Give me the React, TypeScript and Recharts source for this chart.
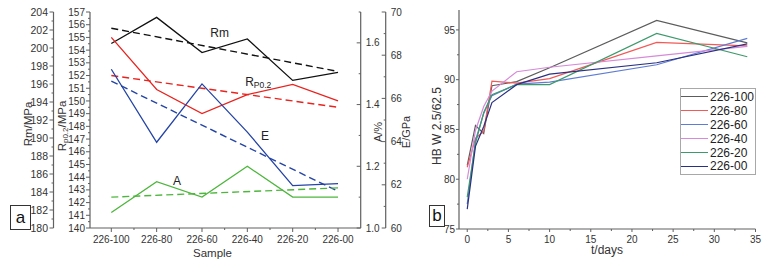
import React from 'react';
import { LineChart, Line, XAxis, YAxis, ReferenceDot, Legend } from 'recharts';

// ---- panel a: properties per sample ----
const samples = ['226-100', '226-80', '226-60', '226-40', '226-20', '226-00'];
const rmValues = [200.5, 203.4, 199.5, 201.0, 196.4, 197.3];
const rmTrend = [202.2, null, null, null, null, 197.4];
const rpValues = [155.0, 150.9, 149.0, 150.5, 151.3, 150.0];
const rpTrend = [152.0, null, null, null, null, 149.5];
const eValues = [67.35, 63.97, 66.67, 64.44, 61.96, 62.05];
const eTrend = [66.8, null, null, null, null, 61.7];
const aValues = [1.05, 1.15, 1.1, 1.2, 1.1, 1.1];
const aTrend = [1.1, null, null, null, null, 1.13];

const sampleMinor = [0.5, 1.5, 2.5, 3.5, 4.5];
const rmTicks = [180, 182, 184, 186, 188, 190, 192, 194, 196, 198, 200, 202, 204];
const rmMinor = [181, 183, 185, 187, 189, 191, 193, 195, 197, 199, 201, 203];
const rpTicks = [140, 141, 142, 143, 144, 145, 146, 147, 148, 149, 150, 151, 152, 153, 154, 155, 156, 157];
const rpMinor = [140.5, 141.5, 142.5, 143.5, 144.5, 145.5, 146.5, 147.5, 148.5, 149.5, 150.5, 151.5, 152.5, 153.5, 154.5, 155.5, 156.5];
const aTicks = [1.0, 1.2, 1.4, 1.6];
const aMinor = [1.1, 1.3, 1.5, 1.7];
const eTicks = [60, 62, 64, 66, 68, 70];
const eMinor = [61, 63, 65, 67, 69];

// axis ids sort the same way they are declared (inner axis first)
const RP = 'l1_rp';
const RM = 'l2_rm';
const AX = 'r1_a';
const EX = 'r2_e';

const annotations = [
  { text: 'Rm', sub: '', axis: RM, x: 2.39, y: 201.7 },
  { text: 'R', sub: 'P0.2', axis: RP, x: 3.24, y: 151.5 },
  { text: 'E', sub: '', axis: EX, x: 3.39, y: 64.24 },
  { text: 'A', sub: '', axis: AX, x: 1.45, y: 1.151 },
];

// ---- panel b: hardness vs ageing time ----
const days = [0, 1, 2, 3, 6, 10, 23, 34];
const hb100 = [81.4, 85.4, 84.6, 89.4, 89.8, 91.2, 95.95, 93.7];
const hb80 = [81.2, 84.1, 84.8, 89.85, 89.65, 90.1, 93.75, 93.4];
const hb60 = [77.5, 83.9, 86.6, 88.4, 89.55, 89.75, 91.5, 94.15];
const hb40 = [80.0, 84.9, 87.3, 88.85, 90.8, 91.25, 92.4, 93.35];
const hb20 = [78.2, 83.6, 86.7, 88.5, 89.5, 89.5, 94.65, 92.3];
const hb00 = [77.0, 83.3, 85.3, 87.7, 89.5, 90.55, 91.7, 93.6];
const hbNames = ['226-100', '226-80', '226-60', '226-40', '226-20', '226-00'];
const hbColors = ['#5c5c5c', '#f25a58', '#5e7cd4', '#d68ad9', '#3e9a6c', '#2b3182'];
const hbSeries = [hb100, hb80, hb60, hb40, hb20, hb00];

const dayTicks = [0, 5, 10, 15, 20, 25, 30, 35];
const dayMinor = [2.5, 7.5, 12.5, 17.5, 22.5, 27.5, 32.5];
const hbTicks = [75, 80, 85, 90, 95];
const hbMinor = [77.5, 82.5, 87.5, 92.5];

const FONT = '"Liberation Sans", Arial, Helvetica, sans-serif';
const INK = '#333';
const AXIS = '#606060';

const leftData = samples.map((s, i) => ({
  idx: i,
  sample: s,
  rm: rmValues[i],
  rmFit: rmTrend[i],
  rp: rpValues[i],
  rpFit: rpTrend[i],
  e: eValues[i],
  eFit: eTrend[i],
  a: aValues[i],
  aFit: aTrend[i],
}));

const hbData = days.map((d, i) => {
  const row: Record<string, number> = { t: d };
  hbSeries.forEach((s, k) => {
    row['s' + k] = s[i];
  });
  return row;
});

// ticks: all vertical-axis ticks point left, bottom ticks point down
function makeTick(side: 'left' | 'right' | 'bottom', majors: number[], fmt: (v: number) => string, len = 4, minorLen = 2, gap = 2, fontSize = 10) {
  return (props: any) => {
    const { x, y, payload } = props;
    const v = Number(payload.value);
    const major = majors.some((m) => Math.abs(m - v) < 1e-6);
    const l = major ? len : minorLen;
    if (side === 'bottom') {
      return (
        <g>
          <line x1={x} y1={y} x2={x} y2={y + l} stroke={AXIS} strokeWidth={1} />
          {major && (
            <text x={x} y={y + len + gap} dy="0.8em" textAnchor="middle" fontSize={fontSize} fontFamily={FONT} fill={INK}>
              {fmt(v)}
            </text>
          )}
        </g>
      );
    }
    return (
      <g>
        <line x1={x - l} y1={y} x2={x} y2={y} stroke={AXIS} strokeWidth={1} />
        {major &&
          (side === 'left' ? (
            <text x={x - len - gap} y={y} dy="0.36em" textAnchor="end" fontSize={fontSize} fontFamily={FONT} fill={INK}>
              {fmt(v)}
            </text>
          ) : (
            <text x={x + gap} y={y} dy="0.36em" textAnchor="start" fontSize={fontSize} fontFamily={FONT} fill={INK}>
              {fmt(v)}
            </text>
          ))}
      </g>
    );
  };
}

const vTitle = (dx: number, cy: number, body: React.ReactNode, size = 11.5) => (p: any) => {
  const vb = p.viewBox || { x: 0 };
  return (
    <text
      transform={`translate(${vb.x + dx}, ${cy}) rotate(-90)`}
      textAnchor="middle"
      dominantBaseline="central"
      fontSize={size}
      fontFamily={FONT}
      fill={INK}
    >
      {body}
    </text>
  );
};

const hTitle = (dx: number, dy: number, text: string, size: number) => (p: any) => {
  const vb = p.viewBox || { x: 0, y: 0 };
  return (
    <text x={vb.x + dx} y={vb.y + dy} textAnchor="middle" dominantBaseline="central" fontSize={size} fontFamily={FONT} fill={INK}>
      {text}
    </text>
  );
};

const noteLabel = (text: string, sub: string) => (p: any) => {
  const vb = p.viewBox || { x: 0, y: 0 };
  return (
    <text x={vb.x} y={vb.y} textAnchor="middle" dominantBaseline="central" fontSize={12} fontFamily={FONT} fill="#222">
      {text}
      {sub && (
        <tspan fontSize={8.5} dy={3}>
          {sub}
        </tspan>
      )}
    </text>
  );
};

const HbLegend = (props: any) => {
  const items = [...(props.payload || [])].sort(
    (p: any, q: any) => hbNames.indexOf(p.value) - hbNames.indexOf(q.value)
  );
  return (
    <div
      style={{
        border: '1px solid #a8a8a8',
        background: '#fff',
        width: 74,
        padding: '1px 0',
        fontFamily: FONT,
        fontSize: 12,
        color: '#222',
      }}
    >
      {items.map((it: any) => (
        <div key={it.value} style={{ display: 'flex', alignItems: 'center', height: 13.9 }}>
          <span style={{ display: 'inline-block', width: 27, borderTop: `1.3px solid ${it.color}`, marginRight: 2 }} />
          <span>{it.value}</span>
        </div>
      ))}
    </div>
  );
};

const boxStyle: React.CSSProperties = {
  position: 'absolute',
  border: '1px solid #333',
  background: '#fff',
  fontFamily: FONT,
  fontSize: 17,
  color: '#111',
  display: 'flex',
  alignItems: 'center',
  justifyContent: 'center',
  boxSizing: 'border-box',
};

export default function App() {
  return (
    <div style={{ position: 'absolute', left: 0, top: 0, width: 768, height: 263, background: '#fff', overflow: 'hidden' }}>
      <div style={{ position: 'absolute', left: 420, top: 0 }}>
        <LineChart width={348} height={263} data={hbData} margin={{ top: 10, right: 12.5, bottom: 0, left: 0 }}>
          <XAxis
            dataKey="t"
            type="number"
            domain={[-1, 35]}
            allowDataOverflow
            ticks={[...dayTicks, ...dayMinor]}
            interval={0}
            height={34}
            tickSize={0}
            tickMargin={0}
            tickLine={false}
            axisLine={{ stroke: AXIS, strokeWidth: 1.2 }}
            tick={makeTick('bottom', dayTicks, (v) => String(v), 3, 2, 3, 10)}
            label={hTitle(148, 21, 't/days', 12)}
          />
          <YAxis
            type="number"
            domain={[75, 97]}
            allowDataOverflow
            ticks={[...hbTicks, ...hbMinor]}
            interval={0}
            width={39}
            tickSize={0}
            tickMargin={0}
            tickLine={false}
            axisLine={{ stroke: AXIS, strokeWidth: 1.2 }}
            tick={makeTick('left', hbTicks, (v) => String(v), 3, 2, 1, 10)}
            label={vTitle(17, 126, 'HB W 2.5/62.5', 12)}
          />
          {hbNames.map((n, k) => (
            <Line
              key={n}
              name={n}
              dataKey={'s' + k}
              stroke={hbColors[k]}
              strokeWidth={1.2}
              dot={false}
              activeDot={false}
              isAnimationActive={false}
            />
          ))}
          <Legend
            layout="vertical"
            align="center"
            verticalAlign="middle"
            content={HbLegend}
            wrapperStyle={{ left: 260, top: 88, width: 76, height: 'auto' }}
          />
        </LineChart>
      </div>

      <div style={{ position: 'absolute', left: 0, top: 0 }}>
        <LineChart width={430} height={263} data={leftData} margin={{ top: 12, right: 0, bottom: 0, left: 0 }}>
          <XAxis
            dataKey="idx"
            type="number"
            domain={[-0.47, 5.5]}
            allowDataOverflow
            ticks={[...samples.map((_, i) => i), ...sampleMinor]}
            interval={0}
            height={35}
            tickSize={0}
            tickMargin={0}
            tickLine={false}
            axisLine={{ stroke: AXIS, strokeWidth: 1.2 }}
            tick={makeTick('bottom', samples.map((_, i) => i), (v) => samples[Math.round(v)], 4, 2, 3, 10)}
            label={hTitle(122.5, 25, 'Sample', 11.5)}
          />
          <YAxis
            yAxisId={RP}
            orientation="left"
            type="number"
            domain={[140, 157]}
            allowDataOverflow
            ticks={[...rpTicks, ...rpMinor]}
            interval={0}
            width={36.5}
            tickSize={0}
            tickMargin={0}
            tickLine={false}
            axisLine={{ stroke: AXIS, strokeWidth: 1.2 }}
            tick={makeTick('left', rpTicks, (v) => String(v), 4, 2, 1, 10)}
            label={vTitle(8.5, 126, <>R<tspan fontSize={8} dy={3}>p0.2</tspan><tspan dy={-3}>/MPa</tspan></>)}
          />
          <YAxis
            yAxisId={RM}
            orientation="left"
            type="number"
            domain={[180, 204]}
            allowDataOverflow
            ticks={[...rmTicks, ...rmMinor]}
            interval={0}
            width={53.5}
            tickSize={0}
            tickMargin={0}
            tickLine={false}
            axisLine={{ stroke: AXIS, strokeWidth: 1.2 }}
            tick={makeTick('left', rmTicks, (v) => String(v), 4, 2, 1.5, 10.5)}
            label={vTitle(27.5, 124, 'Rm/MPa')}
          />
          <YAxis
            yAxisId={AX}
            orientation="right"
            type="number"
            domain={[1.0, 1.7]}
            allowDataOverflow
            ticks={[...aTicks, ...aMinor]}
            interval={0}
            width={25}
            tickSize={0}
            tickMargin={0}
            tickLine={false}
            axisLine={{ stroke: AXIS, strokeWidth: 1.2 }}
            tick={makeTick('right', aTicks, (v) => v.toFixed(1), 4, 2, 5, 10)}
            label={vTitle(17.5, 132, 'A/%', 11)}
          />
          <YAxis
            yAxisId={EX}
            orientation="right"
            type="number"
            domain={[60, 70]}
            allowDataOverflow
            ticks={[...eTicks, ...eMinor]}
            interval={0}
            width={44.3}
            tickSize={0}
            tickMargin={0}
            tickLine={false}
            axisLine={{ stroke: AXIS, strokeWidth: 1.2 }}
            tick={makeTick('right', eTicks, (v) => String(v), 4, 2, 5, 10)}
            label={vTitle(20.5, 132, 'E/GPa', 11)}
          />

          <Line yAxisId={RM} dataKey="rmFit" stroke="#111" strokeWidth={1.4} strokeDasharray="7 4" connectNulls dot={false} activeDot={false} isAnimationActive={false} />
          <Line yAxisId={RM} dataKey="rm" stroke="#111" strokeWidth={1.3} dot={false} activeDot={false} isAnimationActive={false} />
          <Line yAxisId={RP} dataKey="rpFit" stroke="#e8241f" strokeWidth={1.4} strokeDasharray="7 4" connectNulls dot={false} activeDot={false} isAnimationActive={false} />
          <Line yAxisId={RP} dataKey="rp" stroke="#e8241f" strokeWidth={1.3} dot={false} activeDot={false} isAnimationActive={false} />
          <Line yAxisId={EX} dataKey="eFit" stroke="#2444a6" strokeWidth={1.4} strokeDasharray="7 4" connectNulls dot={false} activeDot={false} isAnimationActive={false} />
          <Line yAxisId={EX} dataKey="e" stroke="#2444a6" strokeWidth={1.3} dot={false} activeDot={false} isAnimationActive={false} />
          <Line yAxisId={AX} dataKey="aFit" stroke="#4db63c" strokeWidth={1.4} strokeDasharray="7 4" connectNulls dot={false} activeDot={false} isAnimationActive={false} />
          <Line yAxisId={AX} dataKey="a" stroke="#4db63c" strokeWidth={1.3} dot={false} activeDot={false} isAnimationActive={false} />

          {annotations.map((n) => (
            <ReferenceDot
              key={n.text}
              yAxisId={n.axis}
              x={n.x}
              y={n.y}
              r={0}
              fill="none"
              stroke="none"
              label={noteLabel(n.text, n.sub)}
            />
          ))}
        </LineChart>
      </div>

      <div style={{ ...boxStyle, left: 10, top: 205, width: 21, height: 25 }}>a</div>
      <div style={{ ...boxStyle, left: 429, top: 205, width: 16, height: 22 }}>b</div>
    </div>
  );
}
